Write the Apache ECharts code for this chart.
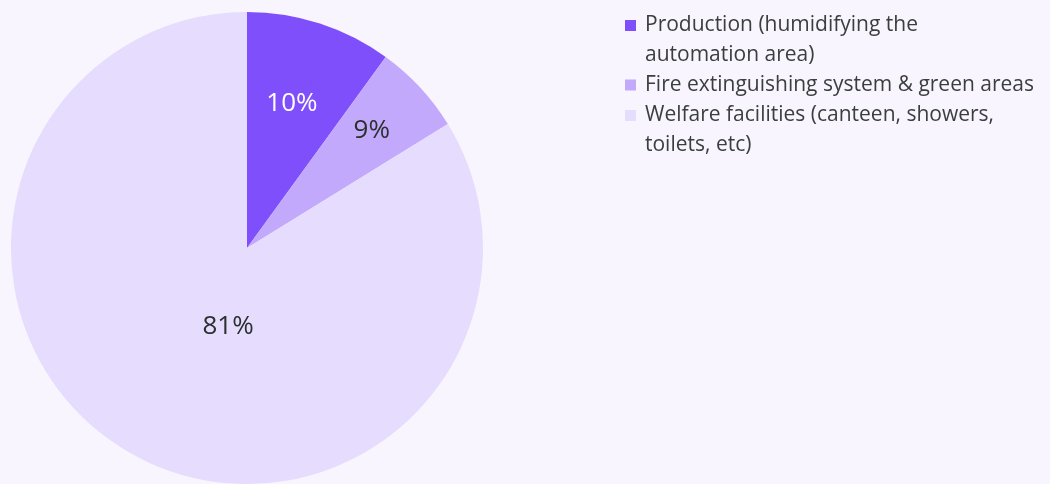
<!DOCTYPE html>
<html>
<head>
<meta charset="utf-8">
<script src="https://cdn.jsdelivr.net/npm/echarts@6/dist/echarts.min.js"></script>
<style>
html,body{margin:0;padding:0;background:#F8F5FE;}
#chart{width:1050px;height:484px;}
</style>
</head>
<body>
<div id="chart"></div>
<script>
// Data
var categories = [
  'Production (humidifying the automation area)',
  'Fire extinguishing system & green areas',
  'Welfare facilities (canteen, showers, toilets, etc)'
];
var legendText = [
  'Production (humidifying the\nautomation area)',
  'Fire extinguishing system & green areas',
  'Welfare facilities (canteen, showers,\ntoilets, etc)'
];
var values = [10, 6.2, 83.8];
var valueLabels = ['10%', '9%', '81%'];

// Styles
var colors = ['#7F4FFB', '#C2A9FB', '#E5DCFE'];
var labelColors = ['#FFFFFF', '#2B302F', '#2B302F'];
var labelOffsets = [[7.5, -29.5], [36, -35], [40, -27]];
var iconTwoLine = 'path://M0,0h11v11h-11z M15,40L15,40';
var iconOneLine = 'path://M0,14.5h11v11h-11z M0,0L0,0 M15,40L15,40';
var icons = [iconTwoLine, iconOneLine, iconTwoLine];

var chart = echarts.init(document.getElementById('chart'), null, {renderer: 'canvas'});
var FONT = '"Open Sans"';

chart.setOption({
  backgroundColor: '#F8F5FE',
  animation: false,
  legend: {
    orient: 'vertical',
    left: 625,
    top: 10.5,
    padding: 0,
    itemWidth: 15,
    itemHeight: 40,
    itemGap: -4.5,
    selectedMode: false,
    itemStyle: {borderWidth: 0},
    textStyle: {fontFamily: FONT, fontSize: 21, color: '#3A3F3E', lineHeight: 29.5},
    formatter: function (name) { return legendText[categories.indexOf(name)]; },
    data: categories.map(function (c, i) { return {name: c, icon: icons[i]}; })
  },
  series: [{
    type: 'pie',
    center: [247, 248],
    radius: 236,
    startAngle: 90,
    clockwise: true,
    avoidLabelOverlap: false,
    emphasis: {disabled: true},
    itemStyle: {borderWidth: 0},
    label: {
      show: true,
      position: 'inside',
      fontFamily: FONT,
      fontSize: 26,
      formatter: function (p) { return valueLabels[p.dataIndex]; }
    },
    labelLine: {show: false},
    labelLayout: function (p) {
      return {dx: labelOffsets[p.dataIndex][0], dy: labelOffsets[p.dataIndex][1]};
    },
    data: categories.map(function (c, i) {
      return {
        name: c,
        value: values[i],
        itemStyle: {color: colors[i]},
        label: {color: labelColors[i]}
      };
    })
  }]
});
</script>
</body>
</html>
